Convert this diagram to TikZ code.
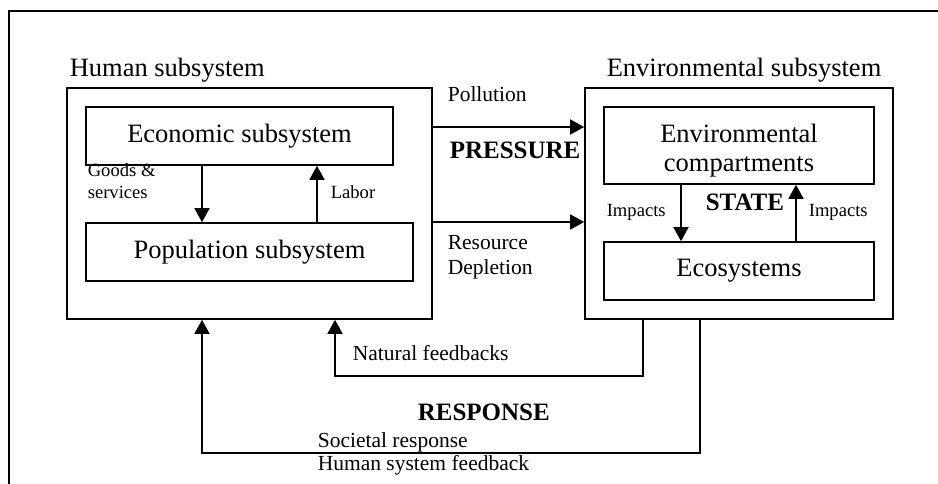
\documentclass[tikz,border=0pt]{standalone}
\usepackage{fontspec}
\setmainfont{Liberation Serif}
\usetikzlibrary{arrows.meta}
\begin{document}
\begin{tikzpicture}[x=1pt, y=-1pt, line width=1.6pt,
    box/.style={draw, rectangle, inner sep=0pt, font=\fontsize{26.5}{29}\selectfont},
    big/.style={font=\fontsize{26.5}{29}\selectfont, inner sep=0pt, anchor=base west},
    mid/.style={font=\fontsize{21.5}{25}\selectfont, inner sep=0pt, anchor=base west},
    small/.style={font=\fontsize{18.6}{22}\selectfont, inner sep=0pt, anchor=base west},
    heavy/.style={font=\bfseries\fontsize{25}{28}\selectfont, inner sep=0pt, anchor=base west},
    arr/.style={-{Triangle[length=14pt,width=15pt]}}]
    \useasboundingbox (0,0) rectangle (938,484);
    \draw (938,11) -- (9,11) -- (9,484);
    \node[box, minimum width=365pt, minimum height=231pt] (human) at (249.5,203.5) {};
    \node[box, minimum width=308pt, minimum height=231pt] (env) at (739,203.5) {};
    \node[box, minimum width=307pt, minimum height=58pt] (econ) at (239.5,136) {Economic subsystem};
    \node[box, minimum width=327pt, minimum height=58pt] (pop) at (249.5,252) {Population subsystem};
    \node[box, minimum width=270pt, minimum height=77pt] (comp) at (739,145.5) {};
    \node[big, anchor=center, align=center] (comptext) at (739,151) {Environmental\\compartments};
    \node[box, minimum width=270pt, minimum height=58pt] (eco) at (739,271) {Ecosystems};
    \node[big] (humanlbl) at (69,77) {Human subsystem};
    \node[big] (envlbl) at (606,77) {Environmental subsystem};
    \node[small] (goods) at (87,177) {Goods \&};
    \node[small] (services) at (87,199) {services};
    \node[small] (labor) at (330,199) {Labor};
    \node[mid] (pollution) at (447,102) {Pollution};
    \node[heavy] (pressure) at (449,159) {PRESSURE};
    \node[mid] (resource) at (447,250) {Resource};
    \node[mid] (depletion) at (447,274) {Depletion};
    \node[small] (impl) at (606,217) {Impacts};
    \node[small] (impr) at (808,217) {Impacts};
    \node[heavy] (state) at (705,211) {STATE};
    \node[mid] (natural) at (352,360) {Natural feedbacks};
    \node[heavy] (response) at (417,420) {RESPONSE};
    \node[mid] (societal) at (317,447) {Societal response};
    \node[mid] (humanfb) at (317,470) {Human system feedback};
    \coordinate (goodsx) at (202,0);
    \coordinate (laborx) at (317,0);
    \coordinate (pollutiony) at (0,127);
    \coordinate (resourcey) at (0,222);
    \coordinate (impdown) at (681,0);
    \coordinate (impup) at (796,0);
    \coordinate (natR) at (643,376);
    \coordinate (natL) at (335,376);
    \coordinate (socR) at (700,453);
    \coordinate (socL) at (202,453);
    \draw[arr] (econ.south -| goodsx) -- (pop.north -| goodsx);
    \draw[arr] (pop.north -| laborx) -- (econ.south -| laborx);
    \draw[arr] (human.east |- pollutiony) -- (env.west |- pollutiony);
    \draw[arr] (human.east |- resourcey) -- (env.west |- resourcey);
    \draw[arr] (comp.south -| impdown) -- (eco.north -| impdown);
    \draw[arr] (eco.north -| impup) -- (comp.south -| impup);
    \draw[arr] (env.south -| natR) -- (natR) -- (natL) -- (human.south -| natL);
    \draw[arr] (env.south -| socR) -- (socR) -- (socL) -- (human.south -| socL);
\end{tikzpicture}
\end{document}
